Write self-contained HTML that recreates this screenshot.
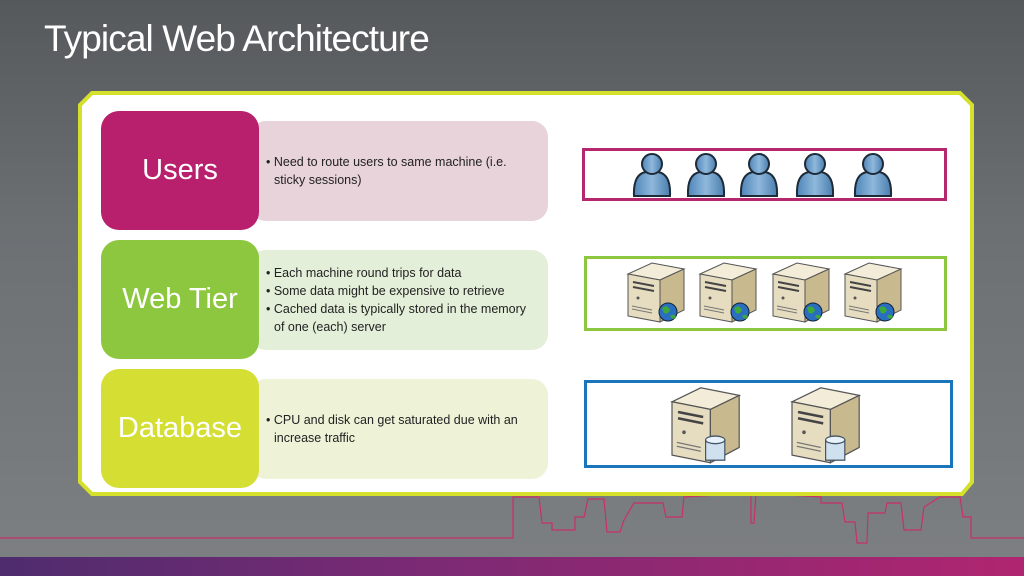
<!DOCTYPE html>
<html><head><meta charset="utf-8"><style>
*{margin:0;padding:0;box-sizing:border-box}
body{width:1024px;height:576px;overflow:hidden;position:relative;font-family:"Liberation Sans",sans-serif;background:linear-gradient(#55595c 0%,#6c7073 40%,#7d8082 100%)}
h1{position:absolute;left:44px;top:18px;font-size:37px;font-weight:normal;color:#fff;letter-spacing:-0.9px}
.bar{position:absolute;left:0;top:557px;width:1024px;height:19px;background:linear-gradient(90deg,#4e2c6e,#7a2a74 40%,#b02570 100%)}
.lbl{position:absolute;left:101px;width:158px;height:119px;border-radius:18px;color:#fff;font-size:29px;display:flex;align-items:center;justify-content:center}
.txt{position:absolute;left:250px;width:298px;height:100px;border-radius:16px;padding:0 10px 0 16px;display:flex;flex-direction:column;justify-content:center;font-size:12.5px;color:#222;line-height:18px}
.txt div{padding-left:8px;text-indent:-8px}
.box{position:absolute;border:3px solid}
</style></head><body>
<h1>Typical Web Architecture</h1>
<svg width="1024" height="576" style="position:absolute;left:0;top:0">
<polyline points="0,538 513,538 513,497 539,497 542,523 552,523 552,530 575,530 575,517 584,517 588,499 604,499 607,532 620,532 624,520 634,503 663,503 666,517 682,517 684,497 751,493 751,523 754,523 756,493 821,497 821,503 842,503 845,522 855,522 857,543 867,543 868,513 885,513 887,503 901,503 904,530 921,530 924,507 940,497 960,497 963,517 971,517 971,538 1024,538" fill="none" stroke="#c8306a" stroke-width="1.2"/>
<polygon points="92,93 960,93 972,105 972,482 962,494 92,494 80,482 80,105" fill="#fff" stroke="#d4e02c" stroke-width="4"/>
</svg>
<div class="txt" style="top:121px;background:#e8d3db"><div>• Need to route users to same machine (i.e. sticky sessions)</div></div>
<div class="lbl" style="top:111px;background:#b81f6c">Users</div>
<div class="txt" style="top:250px;background:#e4efd9"><div>• Each machine round trips for data</div><div>• Some data might be expensive to retrieve</div><div>• Cached data is typically stored in the memory of one (each) server</div></div>
<div class="lbl" style="top:240px;background:#8dc63f">Web Tier</div>
<div class="txt" style="top:379px;background:#eef3d8"><div>• CPU and disk can get saturated due with an increase traffic</div></div>
<div class="lbl" style="top:369px;background:#d5df33">Database</div>
<div class="box" style="left:582px;top:148px;width:365px;height:53px;border-color:#b5286e"></div>
<div class="box" style="left:584px;top:256px;width:363px;height:75px;border-color:#8dc63f"></div>
<div class="box" style="left:584px;top:380px;width:369px;height:88px;border-color:#1a75bb"></div>
<svg width="1024" height="576" style="position:absolute;left:0;top:0">
<defs>
<linearGradient id="pg" x1="0" x2="1"><stop offset="0" stop-color="#4f86b8"/><stop offset=".5" stop-color="#8fb8dc"/><stop offset="1" stop-color="#4a7eae"/></linearGradient>
<g id="person"><path d="M-18,44 Q-19,22 -6,20 L6,20 Q19,22 18,44 Z" fill="url(#pg)" stroke="#1d2a38" stroke-width="2"/><circle cx="0" cy="12" r="10" fill="url(#pg)" stroke="#1d2a38" stroke-width="2"/></g>
<g id="srv"><polygon points="0,14 24,3 56,9 32,20" fill="#f2ecd8" stroke="#555" stroke-width="1"/><polygon points="0,14 32,20 32,62 0,56" fill="#e6dcc0" stroke="#555" stroke-width="1"/><polygon points="32,20 56,9 56,50 32,62" fill="#c9b98f" stroke="#555" stroke-width="1"/><line x1="5" y1="22" x2="26" y2="26" stroke="#444" stroke-width="2"/><line x1="5" y1="27" x2="26" y2="31" stroke="#444" stroke-width="2"/><circle cx="10" cy="38" r="1.5" fill="#555"/><line x1="4" y1="46" x2="24" y2="50" stroke="#777"/><line x1="4" y1="49" x2="24" y2="53" stroke="#777"/></g>
</defs>
<use href="#person" x="652" y="152"/><use href="#person" x="706" y="152"/><use href="#person" x="759" y="152"/><use href="#person" x="815" y="152"/><use href="#person" x="873" y="152"/>
<g transform="translate(628,260)"><use href="#srv"/><circle cx="40" cy="52" r="9" fill="#2a6ec0" stroke="#123"/><path d="M34,48 q5,-4 8,2 q-2,5 -6,3Z M42,56 q4,-3 6,1 q-3,4 -6,-1Z" fill="#3ea83a"/></g>
<g transform="translate(700,260)"><use href="#srv"/><circle cx="40" cy="52" r="9" fill="#2a6ec0" stroke="#123"/><path d="M34,48 q5,-4 8,2 q-2,5 -6,3Z M42,56 q4,-3 6,1 q-3,4 -6,-1Z" fill="#3ea83a"/></g>
<g transform="translate(773,260)"><use href="#srv"/><circle cx="40" cy="52" r="9" fill="#2a6ec0" stroke="#123"/><path d="M34,48 q5,-4 8,2 q-2,5 -6,3Z M42,56 q4,-3 6,1 q-3,4 -6,-1Z" fill="#3ea83a"/></g>
<g transform="translate(845,260)"><use href="#srv"/><circle cx="40" cy="52" r="9" fill="#2a6ec0" stroke="#123"/><path d="M34,48 q5,-4 8,2 q-2,5 -6,3Z M42,56 q4,-3 6,1 q-3,4 -6,-1Z" fill="#3ea83a"/></g>
<g transform="translate(672,384) scale(1.2,1.27)"><use href="#srv"/><rect x="28" y="44" width="16" height="16" fill="#cfe0ee" stroke="#456"/><ellipse cx="36" cy="44" rx="8" ry="3" fill="#e8f2fa" stroke="#456"/></g>
<g transform="translate(792,384) scale(1.2,1.27)"><use href="#srv"/><rect x="28" y="44" width="16" height="16" fill="#cfe0ee" stroke="#456"/><ellipse cx="36" cy="44" rx="8" ry="3" fill="#e8f2fa" stroke="#456"/></g>
</svg>
<div class="bar"></div>
</body></html>
